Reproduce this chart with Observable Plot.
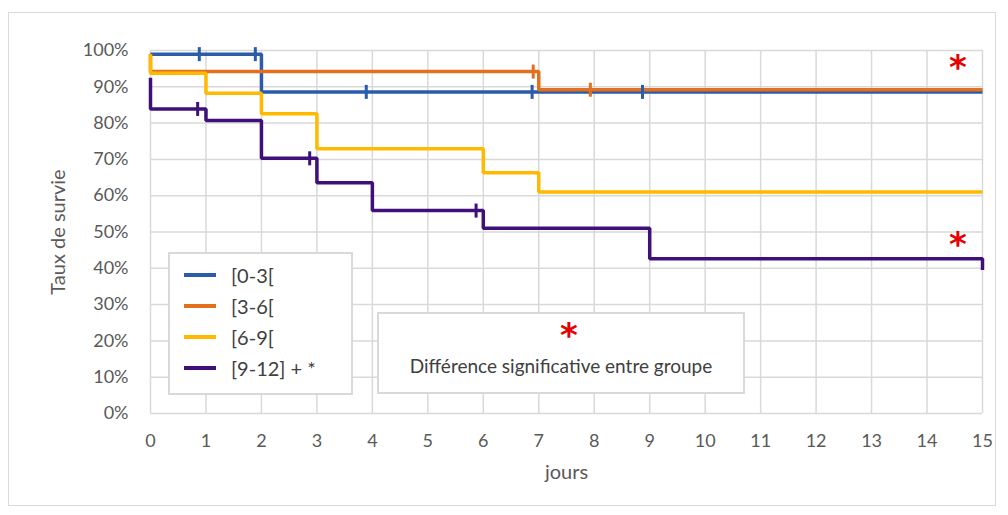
<!DOCTYPE html>
<html>
<head>
<meta charset="utf-8">
<script src="https://cdn.jsdelivr.net/npm/d3@7"></script>
<script src="https://cdn.jsdelivr.net/npm/@observablehq/plot@0.6"></script>
<style>
  html, body { margin: 0; padding: 0; background: #fff; }
  #wrap { position: relative; width: 1008px; height: 515px; font-family: Lato, "Open Sans", sans-serif; }
  #border { position: absolute; left: 8px; top: 12px; width: 988px; height: 494px; border: 1.5px solid #d9d9d9; box-sizing: border-box; pointer-events: none; }
  .box { position: absolute; background: #fff; border: 2px solid #d9d9d9; box-sizing: border-box; }
  .legrow { position: absolute; left: 0; height: 24px; display: flex; align-items: center; color: #404040; font-size: 20px; }
  .legrow .sw { width: 32px; height: 4px; margin-left: 14px; margin-right: 15px; }
  .star { position: absolute; color: #e60000; font-weight: bold; font-family: "DejaVu Sans", sans-serif; font-size: 34px; line-height: 1; transform: translate(-50%, -30%); }
</style>
</head>
<body>
<div id="wrap"></div>
<script>
// Series (Kaplan–Meier step curves): times in days, survival rate
const groups = ["[0-3[", "[3-6[", "[6-9[", "[9-12] + *"];
const colors = ["#2a5caa", "#e2701e", "#ffb900", "#40107a"];

const t03 = [0, 2, 15];
const s03 = [0.99, 0.886, 0.886];
const t36 = [0, 0, 7, 15];
const s36 = [0.99, 0.942, 0.892, 0.892];
const t69 = [0, 0, 1, 2, 3, 6, 7, 15];
const s69 = [0.99, 0.937, 0.882, 0.826, 0.729, 0.663, 0.61, 0.61];
const t912 = [0, 0, 1, 2, 3, 4, 6, 9, 15, 15];
const s912 = [0.925, 0.839, 0.807, 0.703, 0.636, 0.559, 0.51, 0.426, 0.426, 0.395];

// Censored observations (tick marks)
const c03t = [0.88, 1.89, 3.89, 6.88, 8.87];
const c03s = [0.99, 0.99, 0.886, 0.886, 0.886];
const c36t = [6.9, 7.93];
const c36s = [0.942, 0.892];
const c912t = [0.85, 2.87, 5.87];
const c912s = [0.839, 0.703, 0.559];

const xTicks = [0, 1, 2, 3, 4, 5, 6, 7, 8, 9, 10, 11, 12, 13, 14, 15];
const yTicks = [0, 0.1, 0.2, 0.3, 0.4, 0.5, 0.6, 0.7, 0.8, 0.9, 1];
const yTickLabels = ["0%", "10%", "20%", "30%", "40%", "50%", "60%", "70%", "80%", "90%", "100%"];

const xTitle = "jours";
const yTitle = "Taux de survie";
const noteText = "Différence significative entre groupe";
const starMark = "*";

// Build tables
const seriesT = [t03, t36, t69, t912];
const seriesS = [s03, s36, s69, s912];
const lines = [];
seriesT.forEach((ts, i) => ts.forEach((t, j) => lines.push({group: groups[i], t, s: seriesS[i][j]})));
const censT = [c03t, c36t, null, c912t];
const censS = [c03s, c36s, null, c912s];
const cens = [];
censT.forEach((ts, i) => { if (ts) ts.forEach((t, j) => cens.push({group: groups[i], t, s: censS[i][j]})); });

const vtick = { draw(ctx) { ctx.moveTo(0, -7); ctx.lineTo(0, 7); } };

const chart = Plot.plot({
  width: 1008,
  height: 515,
  marginLeft: 150,
  marginRight: 26,
  marginTop: 50,
  marginBottom: 102,
  style: { fontFamily: "Lato, 'Open Sans', sans-serif", fontSize: "18px", color: "#595959", background: "transparent" },
  x: { domain: [0, 15], label: null },
  y: { domain: [0, 1], label: null },
  color: { domain: groups, range: colors },
  marks: [
    Plot.gridX(xTicks, { stroke: "#d9d9d9", strokeOpacity: 1, strokeWidth: 1.5 }),
    Plot.gridY(yTicks, { stroke: "#d9d9d9", strokeOpacity: 1, strokeWidth: 1.5 }),
    Plot.axisX(xTicks, { tickSize: 0, tickPadding: 21, tickFormat: d => String(d), fill: "#595959" }),
    Plot.axisY(yTicks, { tickSize: 0, tickPadding: 22, tickFormat: (d) => yTickLabels[yTicks.indexOf(d)], fill: "#595959" }),
    Plot.text([xTitle], { frameAnchor: "bottom", text: d => d, dy: 65, fill: "#595959", fontSize: 20 }),
    Plot.text([yTitle], { frameAnchor: "left", textAnchor: "middle", text: d => d, rotate: -90, dx: -92, fill: "#595959", fontSize: 20 }),
    Plot.line(lines, { x: "t", y: "s", z: "group", stroke: "group", curve: "step-after", strokeWidth: 3.5, strokeLinejoin: "miter", strokeLinecap: "butt" }),
    Plot.dot(cens, { x: "t", y: "s", stroke: "group", fill: "none", symbol: vtick, strokeWidth: 3 })
  ]
});

const wrap = document.getElementById("wrap");
wrap.appendChild(chart);
chart.style.position = "absolute";
chart.style.left = "0px";
chart.style.top = "0px";

const border = document.createElement("div");
border.id = "border";
wrap.appendChild(border);

// Legend box
const leg = document.createElement("div");
leg.className = "box";
Object.assign(leg.style, { left: "168px", top: "252px", width: "185px", height: "143px" });
groups.forEach((g, i) => {
  const row = document.createElement("div");
  row.className = "legrow";
  row.style.top = (9 + i * 31) + "px";
  const sw = document.createElement("div");
  sw.className = "sw";
  sw.style.background = colors[i];
  const tx = document.createElement("span");
  tx.textContent = g;
  row.appendChild(sw);
  row.appendChild(tx);
  leg.appendChild(row);
});
wrap.appendChild(leg);

// Note box
const note = document.createElement("div");
note.className = "box";
Object.assign(note.style, { left: "377px", top: "312px", width: "368px", height: "82px" });
const noteStar = document.createElement("div");
noteStar.className = "star";
noteStar.textContent = starMark;
Object.assign(noteStar.style, { left: "190px", top: "14px" });
note.appendChild(noteStar);
const noteTx = document.createElement("div");
noteTx.textContent = noteText;
Object.assign(noteTx.style, { position: "absolute", left: "0", right: "0", top: "40px", textAlign: "center", fontSize: "19px", color: "#404040" });
note.appendChild(noteTx);
wrap.appendChild(note);

// Significance stars near the curves
[[958, 60], [958, 237]].forEach(([x, y]) => {
  const s = document.createElement("div");
  s.className = "star";
  s.textContent = starMark;
  Object.assign(s.style, { left: x + "px", top: y + "px" });
  wrap.appendChild(s);
});
</script>
</body>
</html>
